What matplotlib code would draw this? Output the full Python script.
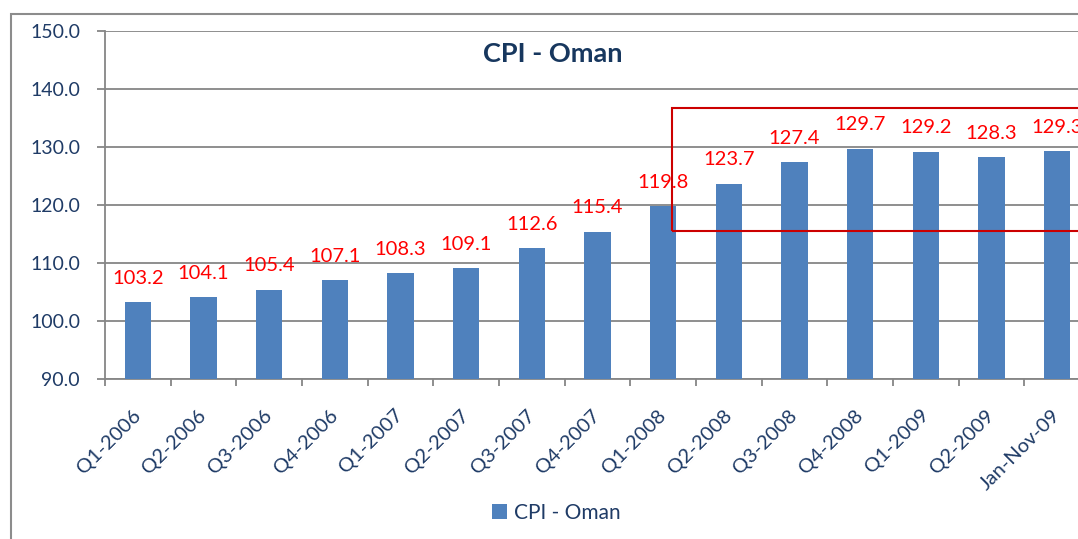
import matplotlib
matplotlib.use("Agg")
import matplotlib.pyplot as plt
from matplotlib.patches import Rectangle
import numpy as np

categories = ["Q1-2006", "Q2-2006", "Q3-2006", "Q4-2006", "Q1-2007", "Q2-2007",
              "Q3-2007", "Q4-2007", "Q1-2008", "Q2-2008", "Q3-2008", "Q4-2008",
              "Q1-2009", "Q2-2009", "Jan-Nov-09"]
values = [103.2, 104.1, 105.4, 107.1, 108.3, 109.1, 112.6, 115.4, 119.8,
          123.7, 127.4, 129.7, 129.2, 128.3, 129.3]
yticks = [90, 100, 110, 120, 130, 140, 150]

plt.rcParams['font.family'] = ['Lato', 'DejaVu Sans']
navy = '#1F3B66'
gray = '#868686'
W, H = 1078, 539
fig = plt.figure(figsize=(W/100, H/100), dpi=100)

# outer chart frame
fig.patches.append(Rectangle((11/W, -0.1), 1.2, 1 - 14/H + 0.1, transform=fig.transFigure,
                             fill=False, edgecolor='#8C8C8C', linewidth=1.5))

left, right, top, bottom = 105, 1090, 31, 379
ax = fig.add_axes([left/W, 1 - bottom/H, (right-left)/W, (bottom-top)/H])
x = np.arange(len(categories))
ax.bar(x, values, width=0.4, color='#4F81BD', zorder=3)
ax.set_xlim(-0.5, len(categories) - 0.5)
ax.set_ylim(90, 150)
ax.set_yticks(yticks)
ax.set_yticklabels([f"{v:.1f}" for v in yticks], color=navy, fontsize=14)
ax.grid(axis='y', color=gray, linewidth=1.3, zorder=0)
ax.tick_params(axis='y', direction='out', length=6, width=1.3, color=gray, pad=12)

ax.set_xticks(np.arange(len(categories) + 1) - 0.5)
ax.set_xticklabels([])
ax.tick_params(axis='x', which='major', direction='out', length=5, width=1.3, color=gray)
ax.set_xticks(x, minor=True)
ax.set_xticklabels(categories, minor=True, rotation=45, ha='right', va='center',
                   rotation_mode='anchor', color=navy, fontsize=14.5)
ax.tick_params(axis='x', which='minor', length=0, pad=24)

for s in ['top', 'right']:
    ax.spines[s].set_visible(False)
for s in ['left', 'bottom']:
    ax.spines[s].set_color(gray)
    ax.spines[s].set_linewidth(1.3)

for xi, v in zip(x, values):
    ax.annotate(f"{v:.1f}", (xi, v), xytext=(0, 11), textcoords='offset points',
                ha='center', va='bottom', color='#FF0000', fontsize=14.5, zorder=5)

ax.text(0.455, 0.935, "CPI - Oman", transform=ax.transAxes,
        ha='center', va='center', fontsize=19.5, fontweight='bold', color='#17375E')

ax.add_patch(Rectangle((8.13, 115.5), 7.0, 21.2, fill=False, edgecolor='#CC0000',
                       linewidth=1.5, clip_on=False, zorder=6))

# legend
h = ax.bar([0], [0], color='#4F81BD', label='CPI - Oman')
fig.legend(handles=[h], labels=['CPI - Oman'], loc='center', bbox_to_anchor=(556/W, 1 - 513/H),
           frameon=False, fontsize=15, handlelength=0.75, handleheight=0.75, handletextpad=0.3,
           labelcolor=navy)

fig.savefig("out.png", dpi=100)
